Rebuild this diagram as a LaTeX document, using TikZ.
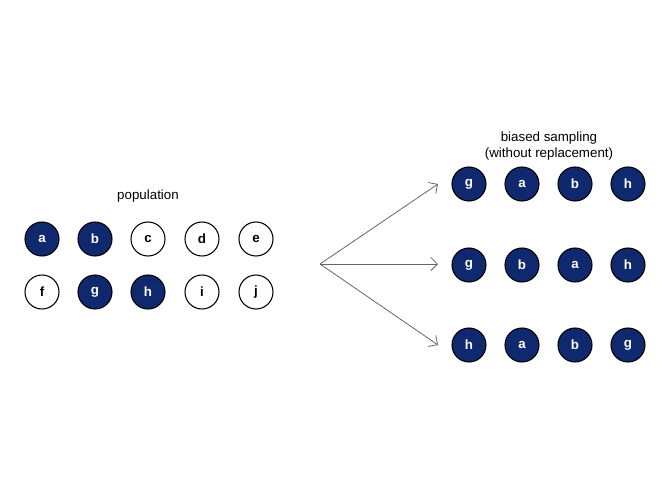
\documentclass[tikz,border=0pt]{standalone}
\usepackage{fontspec}
\setmainfont{Liberation Sans}
\usetikzlibrary{arrows.meta, positioning}
\definecolor{navy}{RGB}{16,40,110}
\tikzset{fullnode/.style={circle, fill=navy, draw=black, line width=0.8pt, minimum size=25.5pt, inner sep=0pt, text=white, font=\bfseries},
emptynode/.style={circle, fill=white, draw=black, line width=0.8pt, minimum size=25.5pt, inner sep=0pt, font=\bfseries}}
\begin{document}
\begin{tikzpicture}[x=0.75pt, y=-0.75pt,
                sampleline/.style={draw=black!60, line width=0.6pt, -{Straight Barb[length=5pt]}}
            ]
                \useasboundingbox (0, 0) rectangle (672, 480);

                % Population
                \node at (148, 196) {population};
                \foreach \x/\name/\kind in {42/a/fullnode, 95/b/fullnode, 148/c/emptynode, 202/d/emptynode, 256/e/emptynode} {
\node[\kind] (\name) at (\x, 239) {\name};
}
                \foreach \x/\name/\kind in {42/f/emptynode, 95/g/fullnode, 148/h/fullnode, 202/i/emptynode, 256/j/emptynode} {
\node[\kind] (\name) at (\x, 292) {\name};
}

                % Samples
                \node[align=center] at (549, 146) {biased sampling\\(without replacement)};
                \foreach \row/\y/\list in {1/184/{g,a,b,h}, 2/265/{g,b,a,h}, 3/345/{h,a,b,g}} {
\foreach \name [count=\i] in \list {
\node[fullnode] (s\row\i) at ({469+53*(\i-1)}, \y) {\name};
}
}

                % Arrows
                \coordinate (split) at (320, 264);
                \draw[sampleline] (split) -- (438, 184);
                \draw[sampleline] (split) -- (438, 264);
                \draw[sampleline] (split) -- (438, 345);
            \end{tikzpicture}
\end{document}
